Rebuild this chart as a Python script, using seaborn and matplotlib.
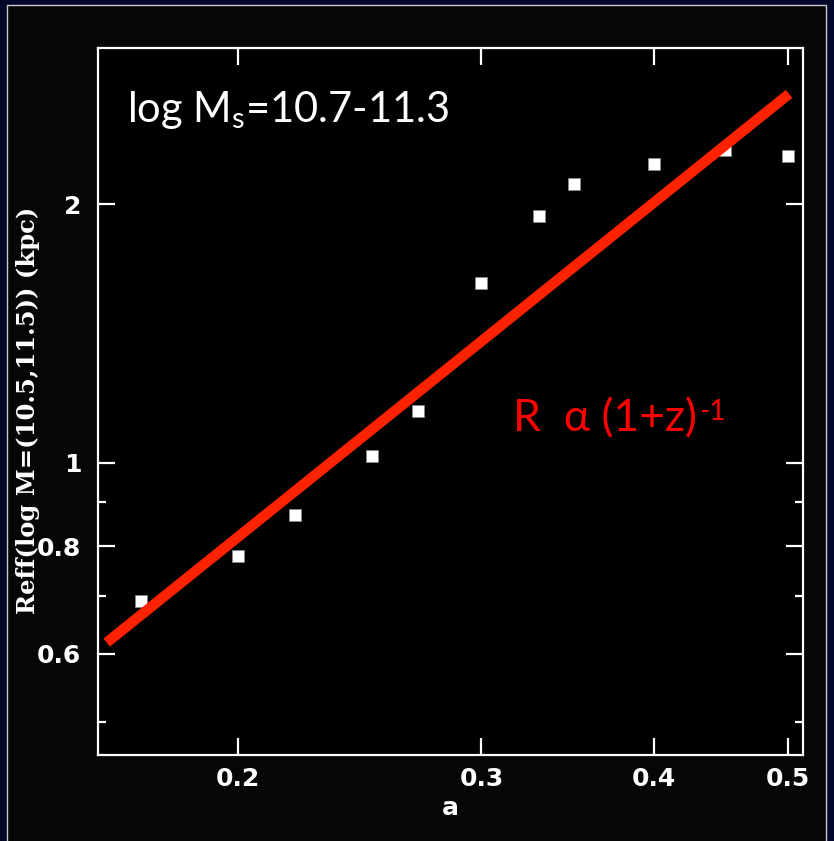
import numpy as np
import pandas as pd
import matplotlib
matplotlib.use("Agg")
import matplotlib.pyplot as plt
from matplotlib.ticker import FixedLocator, FixedFormatter, NullLocator
from matplotlib.patches import Rectangle
import seaborn as sns

# ---- data ----
a_vals = [0.17, 0.20, 0.22, 0.25, 0.27, 0.30, 0.33, 0.35, 0.40, 0.45, 0.50]
reff_vals = [0.690, 0.779, 0.870, 1.019, 1.150, 1.619, 1.938, 2.110, 2.228, 2.313, 2.278]
fit_a = [0.1606, 0.501]
fit_r = [0.618, 2.688]
x_ticks = [0.2, 0.3, 0.4, 0.5]
x_labels = ["0.2", "0.3", "0.4", "0.5"]
y_ticks = [0.6, 0.8, 1.0, 2.0]
y_labels = ["0.6", "0.8", "1", "2"]
y_minor = [0.5, 0.7, 0.9]

pts = pd.DataFrame({"a": a_vals, "reff": reff_vals})
fit = pd.DataFrame({"a": fit_a, "reff": fit_r})

sns.set_theme(style="dark")
plt.rcParams["font.family"] = ["DejaVu Sans"]
plt.rcParams["mathtext.fontset"] = "custom"
plt.rcParams["mathtext.rm"] = "Lato"
plt.rcParams["mathtext.it"] = "Lato:italic"
plt.rcParams["mathtext.bf"] = "Lato:bold"

W, H = 834, 841
fig = plt.figure(figsize=(W / 100, H / 100), dpi=100)
fig.patch.set_facecolor("#03082a")
fig.patches.append(Rectangle((7 / W, -0.05), (826 - 7) / W, (H - 5) / H + 0.05,
                             transform=fig.transFigure, facecolor="#060606",
                             edgecolor="#c8c8c8", linewidth=1.0, zorder=-5))

ax = fig.add_axes([98 / W, (H - 755) / H, (802.5 - 98) / W, (755 - 48) / H])
ax.set_zorder(2)
ax.set_facecolor("#000000")

sns.scatterplot(data=pts, x="a", y="reff", marker="s", s=70, color="white",
                edgecolor="#888888", linewidth=0.6, ax=ax, zorder=3)
sns.lineplot(data=fit, x="a", y="reff", color="#ff2200", linewidth=7.5,
             ax=ax, zorder=4, solid_capstyle="butt")

ax.set_xscale("log")
ax.set_yscale("log")
ax.set_xlim(0.1583, 0.5124)
ax.set_ylim(0.4573, 3.04)

ax.xaxis.set_major_locator(FixedLocator(x_ticks))
ax.xaxis.set_major_formatter(FixedFormatter(x_labels))
ax.xaxis.set_minor_locator(NullLocator())
ax.yaxis.set_major_locator(FixedLocator(y_ticks))
ax.yaxis.set_major_formatter(FixedFormatter(y_labels))
ax.yaxis.set_minor_locator(FixedLocator(y_minor))

ax.tick_params(which="both", direction="in", top=True, right=True,
               bottom=True, left=True,
               color="white", width=1.6, labelcolor="white", labelsize=18)
ax.tick_params(which="major", length=12.5)
ax.tick_params(which="minor", length=6)
ax.tick_params(axis="x", pad=9)
ax.tick_params(axis="y", pad=12)
for lab in ax.get_xticklabels() + ax.get_yticklabels():
    lab.set_fontweight("bold")
ax.grid(False)
for sp in ax.spines.values():
    sp.set_color("white")
    sp.set_linewidth(1.6)
    sp.set_visible(True)

ax.set_xlabel("a", color="white", fontsize=18, fontweight="bold")
ax.xaxis.set_label_coords(0.5, -0.058)
ax.set_ylabel("Reff(log M=(10.5,11.5)) (kpc)", color="white", fontsize=17.5,
              fontfamily="DejaVu Serif", fontweight="bold")
ax.yaxis.set_label_coords(-0.083, 0.488)

ax.text(0.041, 0.895, r"log M$_\mathrm{s}$=10.7-11.3", transform=ax.transAxes,
        color="white", fontsize=30, family="Lato", va="baseline", ha="left")
t_red = ax.text(0.5895, 0.457, "R  α (1+z)", transform=ax.transAxes,
                color="#ff0000", fontsize=32, family=["Lato", "DejaVu Sans"],
                va="baseline", ha="left")
ax.annotate("-1", xy=(1, 1), xycoords=t_red, xytext=(1.5, 0),
            textcoords="offset points", color="#ff0000", fontsize=20,
            family="Lato", va="top", ha="left")

fig.savefig("out.png", dpi=100, facecolor=fig.get_facecolor())
